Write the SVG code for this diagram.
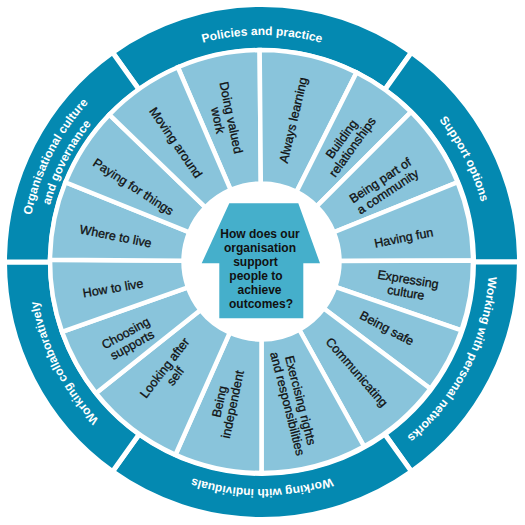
<svg xmlns="http://www.w3.org/2000/svg" width="525" height="525" viewBox="0 0 525 525">
<style>
.ring{fill:#0489B1;stroke:#fff;stroke-width:5}
.seg{fill:#89C4DB;stroke:#fff;stroke-width:4.5}
.rt{font-family:"Liberation Sans",Arial,sans-serif;font-weight:bold;font-size:12px;fill:#fff}
.st{font-family:"Liberation Sans",Arial,sans-serif;font-size:12.5px;fill:#111;stroke:#111;stroke-width:0.3;text-anchor:middle}
.ht{font-family:"Liberation Sans",Arial,sans-serif;font-weight:bold;font-size:12px;fill:#111;text-anchor:middle}
</style>
<defs>
<path id="a-pol" d="M88.11,116.09 A227,227 0 0 1 435.89,116.09"/>
<path id="a-sup" d="M313.06,40.82 A227,227 0 0 1 470.95,350.70"/>
<path id="a-net" d="M470.95,173.30 A227,227 0 0 1 313.06,483.18"/>
<path id="a-ind" d="M435.89,407.91 A227,227 0 0 1 88.11,407.91"/>
<path id="a-col" d="M210.94,483.18 A227,227 0 0 1 53.05,173.30"/>
<path id="a-org1" d="M45.22,354.02 A235.5,235.5 0 0 1 209.02,32.54"/>
<path id="a-org2" d="M59.95,347.77 A219.5,219.5 0 0 1 212.62,48.13"/>
</defs>
<rect width="525" height="525" fill="#fff"/>

<g id="ring-policies"><path class="ring" d="M112.47,52.36 A257.5,257.5 0 0 1 411.53,52.36 L384.82,89.81 A211.5,211.5 0 0 0 139.18,89.81 Z"/>
<text class="rt"><textPath href="#a-pol" startOffset="50%" text-anchor="middle">Policies and practice</textPath></text></g>
<g id="ring-support"><path class="ring" d="M411.53,52.36 A257.5,257.5 0 0 1 519.5,262 L473.5,262 A211.5,211.5 0 0 0 384.82,89.81 Z"/>
<text class="rt"><textPath href="#a-sup" startOffset="50%" text-anchor="middle">Support options</textPath></text></g>
<g id="ring-networks"><path class="ring" d="M519.5,262 A257.5,257.5 0 0 1 411.53,471.64 L384.82,434.19 A211.5,211.5 0 0 0 473.5,262 Z"/>
<text class="rt"><textPath href="#a-net" startOffset="50%" text-anchor="middle">Working with personal networks</textPath></text></g>
<g id="ring-individuals"><path class="ring" d="M411.53,471.64 A257.5,257.5 0 0 1 112.47,471.64 L139.18,434.19 A211.5,211.5 0 0 0 384.82,434.19 Z"/>
<text class="rt"><textPath href="#a-ind" startOffset="50%" text-anchor="middle">Working with individuals</textPath></text></g>
<g id="ring-collab"><path class="ring" d="M112.47,471.64 A257.5,257.5 0 0 1 4.5,262 L50.5,262 A211.5,211.5 0 0 0 139.18,434.19 Z"/>
<text class="rt"><textPath href="#a-col" startOffset="50%" text-anchor="middle">Working collaboratively</textPath></text></g>
<g id="ring-org"><path class="ring" d="M4.5,262 A257.5,257.5 0 0 1 112.47,52.36 L139.18,89.81 A211.5,211.5 0 0 0 50.5,262 Z"/>
<text class="rt"><textPath href="#a-org1" startOffset="50%" text-anchor="middle">Organisational culture</textPath></text>
<text class="rt"><textPath href="#a-org2" startOffset="50%" text-anchor="middle">and governance</textPath></text></g>

<g id="seg-doing"><path class="seg" d="M177.84,67.25 A211.5,211.5 0 0 1 259.65,50.01 L260.82,183.5 A78,78 0 0 0 230.65,189.86 Z"/>
<text class="st" transform="translate(224.5,119) rotate(78.1)"><tspan x="0" y="-2.5">Doing valued</tspan><tspan x="0" y="11">work</tspan></text></g>
<g id="seg-learning"><path class="seg" d="M259.65,50.01 A211.5,211.5 0 0 1 356.53,72.55 L296.55,191.82 A78,78 0 0 0 260.82,183.5 Z"/>
<text class="st" transform="translate(293,120) rotate(-76.9)" y="4.5">Always learning</text></g>
<g id="seg-relationships"><path class="seg" d="M356.53,72.55 A211.5,211.5 0 0 1 411.05,111.95 L316.65,206.35 A78,78 0 0 0 296.55,191.82 Z"/>
<text class="st" transform="translate(347,143) rotate(-54.15)"><tspan x="0" y="-2.5">Building</tspan><tspan x="0" y="11">relationships</tspan></text></g>
<g id="seg-community"><path class="seg" d="M411.05,111.95 A211.5,211.5 0 0 1 457.6,182.27 L333.82,232.28 A78,78 0 0 0 316.65,206.35 Z"/>
<text class="st" transform="translate(384,186) rotate(-33.5)"><tspan x="0" y="-2.5">Being part of</tspan><tspan x="0" y="11">a community</tspan></text></g>
<g id="seg-fun"><path class="seg" d="M457.6,182.27 A211.5,211.5 0 0 1 473,260.39 L339.5,261.09 A78,78 0 0 0 333.82,232.28 Z"/>
<text class="st" transform="translate(403.7,237.5) rotate(-11.15)" y="4.5">Having fun</text></g>
<g id="seg-culture"><path class="seg" d="M473,260.39 A211.5,211.5 0 0 1 461.48,330.36 L335.25,286.89 A78,78 0 0 0 339.5,261.09 Z"/>
<text class="st" transform="translate(407,286) rotate(9.35)"><tspan x="0" y="-2.5">Expressing</tspan><tspan x="0" y="11">culture</tspan></text></g>
<g id="seg-safe"><path class="seg" d="M461.48,330.36 A211.5,211.5 0 0 1 430.41,388.78 L323.79,308.44 A78,78 0 0 0 335.25,286.89 Z"/>
<text class="st" transform="translate(387,328) rotate(28)" y="4.5">Being safe</text></g>
<g id="seg-communicating"><path class="seg" d="M430.41,388.78 A211.5,211.5 0 0 1 364.04,446.48 L299.32,329.72 A78,78 0 0 0 323.79,308.44 Z"/>
<text class="st" transform="translate(357,372) rotate(49)" y="4.5">Communicating</text></g>
<g id="seg-rights"><path class="seg" d="M364.04,446.48 A211.5,211.5 0 0 1 261.5,473 L261.5,339.5 A78,78 0 0 0 299.32,329.72 Z"/>
<text class="st" transform="translate(294,402) rotate(75.5)"><tspan x="0" y="-2.5">Exercising rights</tspan><tspan x="0" y="11">and responsibilities</tspan></text></g>
<g id="seg-independent"><path class="seg" d="M261.5,473 A211.5,211.5 0 0 1 175.48,454.72 L229.77,332.76 A78,78 0 0 0 261.5,339.5 Z"/>
<text class="st" transform="translate(226,403) rotate(-78)"><tspan x="0" y="-2.5">Being</tspan><tspan x="0" y="11">independent</tspan></text></g>
<g id="seg-self"><path class="seg" d="M175.48,454.72 A211.5,211.5 0 0 1 95.98,393.16 L200.46,310.06 A78,78 0 0 0 229.77,332.76 Z"/>
<text class="st" transform="translate(170,372) rotate(-52.25)"><tspan x="0" y="-2.5">Looking after</tspan><tspan x="0" y="11">self</tspan></text></g>
<g id="seg-choosing"><path class="seg" d="M95.98,393.16 A211.5,211.5 0 0 1 62.01,331.76 L187.93,287.41 A78,78 0 0 0 200.46,310.06 Z"/>
<text class="st" transform="translate(129,339) rotate(-28.95)"><tspan x="0" y="-2.5">Choosing</tspan><tspan x="0" y="11">supports</tspan></text></g>
<g id="seg-howlive"><path class="seg" d="M62.01,331.76 A211.5,211.5 0 0 1 50.01,259.65 L183.5,260.82 A78,78 0 0 0 187.93,287.41 Z"/>
<text class="st" transform="translate(113,288) rotate(-9.45)" y="4.5">How to live</text></g>
<g id="seg-wherelive"><path class="seg" d="M50.01,259.65 A211.5,211.5 0 0 1 65.4,182.27 L189.18,232.28 A78,78 0 0 0 183.5,260.82 Z"/>
<text class="st" transform="translate(115.7,236) rotate(11.25)" y="4.5">Where to live</text></g>
<g id="seg-paying"><path class="seg" d="M65.4,182.27 A211.5,211.5 0 0 1 109.36,114.58 L205.39,207.32 A78,78 0 0 0 189.18,232.28 Z"/>
<text class="st" transform="translate(133.5,186.5) rotate(33)" y="4.5">Paying for things</text></g>
<g id="seg-moving"><path class="seg" d="M109.36,114.58 A211.5,211.5 0 0 1 177.84,67.25 L230.65,189.86 A78,78 0 0 0 205.39,207.32 Z"/>
<text class="st" transform="translate(176,142.5) rotate(55.35)" y="4.5">Moving around</text></g>

<g id="house"><path d="M229.3,203.3 L298.3,203.3 L320,263.3 L303.3,263.3 L303.3,318.3 L219.3,318.3 L219.3,263.3 L201.7,263.3 Z" fill="#45AFCB"/>
<text class="ht"><tspan x="260" y="237.5">How does our</tspan><tspan x="260" y="252">organisation</tspan><tspan x="255.5" y="266">support</tspan><tspan x="256" y="280">people to</tspan><tspan x="259.5" y="294">achieve</tspan><tspan x="261" y="308">outcomes?</tspan></text></g>
</svg>
